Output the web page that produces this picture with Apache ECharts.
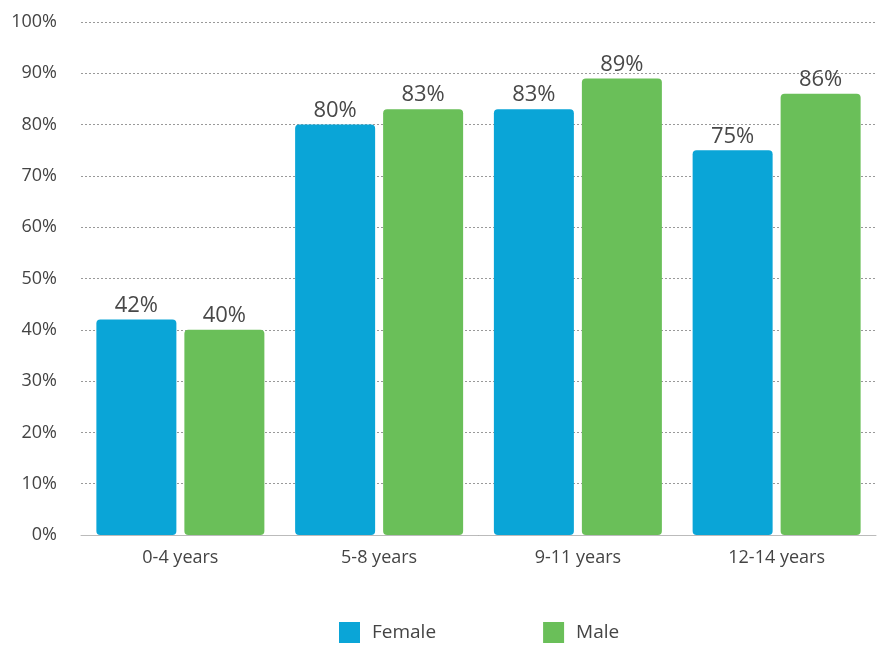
<!DOCTYPE html>
<html><head><meta charset="utf-8">
<script src="https://cdn.jsdelivr.net/npm/echarts@6/dist/echarts.min.js"></script>
<style>html,body{margin:0;padding:0;background:#fff}#c{width:880px;height:648px}</style>
</head><body><div id="c"></div>
<script>
const categories = ['0-4 years', '5-8 years', '9-11 years', '12-14 years'];
const female = [42, 80, 83, 75];
const male = [40, 83, 89, 86];
const yTicks = [0, 10, 20, 30, 40, 50, 60, 70, 80, 90, 100];

const chart = echarts.init(document.getElementById('c'), null, {renderer: 'canvas'});
const font = '"Open Sans", "Noto Sans", sans-serif';
const label = {show: true, position: 'top', formatter: '{c}%', color: '#484848', fontSize: 22, fontFamily: font, distance: 3};
chart.setOption({
  animation: false,
  textStyle: {fontFamily: font},
  grid: {left: 81, right: 4, top: 22, bottom: 113, containLabel: false},
  legend: {
    data: ['Female', 'Male'], left: 334, top: 617, itemWidth: 21, itemHeight: 21, itemGap: 107,
    icon: 'rect', textStyle: {color: '#444', fontSize: 19, fontFamily: font, padding: [0, 0, 0, 7]}
  },
  xAxis: {
    type: 'category', data: categories,
    axisLine: {lineStyle: {color: '#bbb', width: 1}}, axisTick: {show: false},
    axisLabel: {color: '#444', fontSize: 18, margin: 14, fontFamily: font}
  },
  yAxis: {
    type: 'value', min: yTicks[0], max: yTicks[yTicks.length - 1], interval: 10,
    axisLine: {show: false}, axisTick: {show: false},
    axisLabel: {color: '#444', fontSize: 18, margin: 24, fontFamily: font, formatter: '{value}%'},
    splitLine: {lineStyle: {color: '#999', type: [2, 2], width: 1}}
  },
  series: [
    {name: 'Female', type: 'bar', data: female, barWidth: 80, barGap: '10%',
     itemStyle: {color: '#0aa5d7', borderRadius: 4}, label},
    {name: 'Male', type: 'bar', data: male, barWidth: 80, barGap: '10%',
     itemStyle: {color: '#6abf59', borderRadius: 4}, label}
  ]
});
</script></body></html>
